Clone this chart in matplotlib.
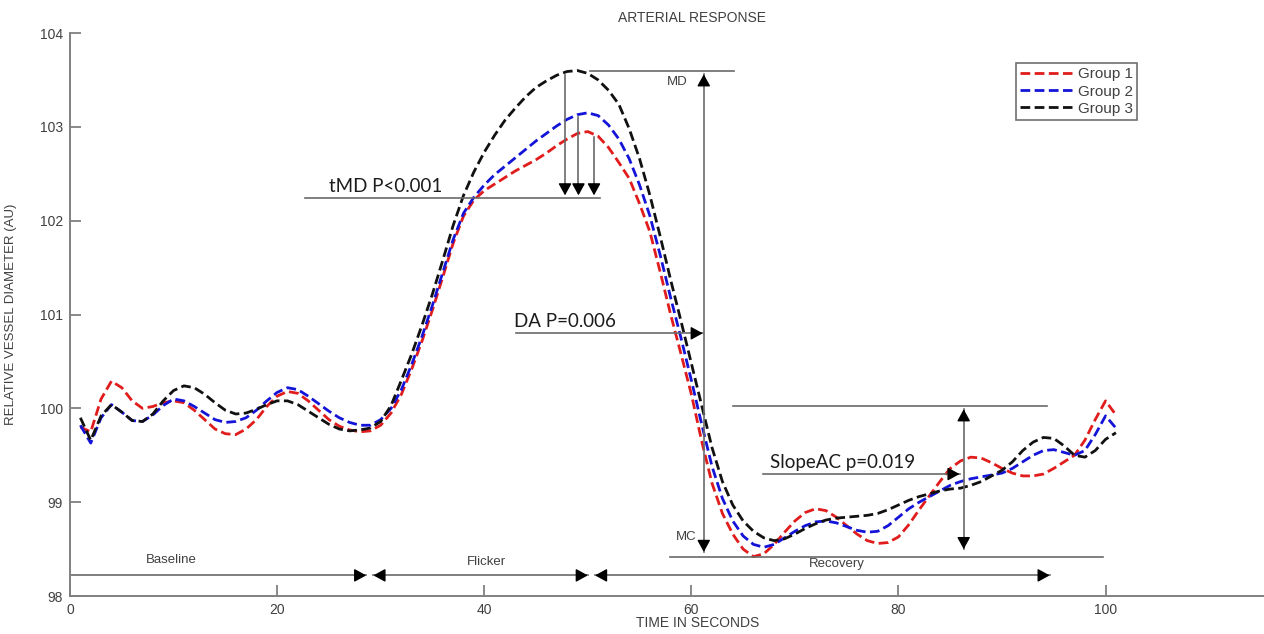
import matplotlib.pyplot as plt
import numpy as np

# time in seconds and relative vessel diameter (AU) for each group
t = list(range(1, 102))

group1 = [99.80, 99.75, 100.10, 100.29, 100.22, 100.08, 100.00, 100.02, 100.06, 100.08,
          100.06, 99.98, 99.88, 99.78, 99.73, 99.72, 99.78, 99.88, 100.02, 100.13,
          100.18, 100.16, 100.08, 99.98, 99.88, 99.81, 99.77, 99.75, 99.76, 99.82,
          99.95, 100.15, 100.42, 100.72, 101.05, 101.40, 101.76, 102.05, 102.22, 102.32,
          102.39, 102.46, 102.53, 102.59, 102.65, 102.72, 102.80, 102.87, 102.93, 102.95,
          102.90, 102.78, 102.62, 102.45, 102.18, 101.88, 101.45, 101.00, 100.58, 100.15,
          99.65, 99.20, 98.88, 98.66, 98.50, 98.42, 98.45, 98.55, 98.68, 98.80,
          98.89, 98.93, 98.91, 98.84, 98.75, 98.66, 98.59, 98.56, 98.57, 98.63,
          98.76, 98.92, 99.07, 99.22, 99.36, 99.44, 99.48, 99.47, 99.42, 99.36,
          99.31, 99.28, 99.28, 99.30, 99.36, 99.43, 99.50, 99.66, 99.88, 100.08,
          99.93]

group2 = [99.82, 99.63, 99.90, 100.04, 99.96, 99.87, 99.86, 99.93, 100.03, 100.10,
          100.08, 100.02, 99.95, 99.88, 99.85, 99.86, 99.90, 99.98, 100.08, 100.17,
          100.22, 100.20, 100.13, 100.05, 99.97, 99.90, 99.85, 99.82, 99.82, 99.88,
          100.00, 100.20, 100.47, 100.77, 101.10, 101.45, 101.80, 102.08, 102.25, 102.38,
          102.49, 102.58, 102.67, 102.76, 102.85, 102.93, 103.01, 103.08, 103.13, 103.15,
          103.12, 103.02, 102.87, 102.66, 102.38, 102.05, 101.63, 101.18, 100.75, 100.30,
          99.83, 99.38, 99.04, 98.80, 98.64, 98.55, 98.52, 98.55, 98.62, 98.69,
          98.75, 98.79, 98.80, 98.78, 98.74, 98.70, 98.68, 98.69, 98.75, 98.84,
          98.93, 99.00, 99.06, 99.12, 99.18, 99.22, 99.25, 99.27, 99.29, 99.31,
          99.36, 99.43, 99.50, 99.55, 99.56, 99.53, 99.50, 99.55, 99.72, 99.92,
          99.79]

group3 = [99.90, 99.66, 99.92, 100.04, 99.96, 99.87, 99.86, 99.94, 100.08, 100.19,
          100.24, 100.22, 100.15, 100.06, 99.98, 99.94, 99.95, 99.99, 100.04, 100.08,
          100.08, 100.04, 99.97, 99.90, 99.83, 99.78, 99.76, 99.77, 99.79, 99.86,
          100.03, 100.30, 100.58, 100.89, 101.22, 101.58, 101.95, 102.27, 102.52, 102.73,
          102.91, 103.07, 103.20, 103.32, 103.42, 103.49, 103.55, 103.59, 103.60, 103.57,
          103.50, 103.39, 103.24, 102.98, 102.66, 102.27, 101.83, 101.37, 100.93, 100.48,
          100.03, 99.58, 99.22, 98.97, 98.80, 98.69, 98.62, 98.59, 98.61, 98.66,
          98.72, 98.77, 98.81, 98.83, 98.84, 98.85, 98.86, 98.88, 98.92, 98.97,
          99.02, 99.06, 99.09, 99.12, 99.14, 99.15, 99.18, 99.22, 99.28, 99.34,
          99.43, 99.55, 99.64, 99.69, 99.68, 99.60, 99.50, 99.48, 99.55, 99.67,
          99.74]

labels = ['Group 1', 'Group 2', 'Group 3']
colors = ['#e01c1c', '#1414d8', '#111111']

plt.rcParams['font.family'] = ['Liberation Sans', 'DejaVu Sans']

fig = plt.figure(figsize=(12.64, 6.34), dpi=100)
ax = fig.add_axes([0.0554, 0.0599, 0.9446, 0.888])

for y, c, lab in zip([group1, group2, group3], colors, labels):
    ax.plot(t, y, color=c, lw=2.0, dashes=(3.5, 1.6), label=lab)

ax.set_xlim(0, 115.3)
ax.set_ylim(98, 104)
ax.set_xticks([0, 20, 40, 60, 80, 100])
ax.set_yticks([98, 99, 100, 101, 102, 103, 104])
ax.tick_params(direction='in', length=8, width=1.3, color='#808080',
               labelsize=10, labelcolor='#404040', pad=5)
for s in ['top', 'right']:
    ax.spines[s].set_visible(False)
for s in ['left', 'bottom']:
    ax.spines[s].set_color('#808080')
    ax.spines[s].set_linewidth(1.4)

ax.set_xlabel('TIME IN SECONDS', fontsize=10, color='#404040')
ax.xaxis.set_label_coords(0.526, -0.035)
ax.set_ylabel('RELATIVE VESSEL DIAMETER (AU)', fontsize=9.5, color='#404040')
ax.yaxis.set_label_coords(-0.044, 0.5)
ax.text(0.521, 1.027, 'ARTERIAL RESPONSE', transform=ax.transAxes,
        ha='center', va='center', fontsize=10, color='#404040')

leg = ax.legend(loc='upper left', bbox_to_anchor=(0.792, 0.947), fontsize=11,
                handlelength=3.4, handletextpad=0.35, labelspacing=0.2,
                borderpad=0.3, fancybox=False, framealpha=1, borderaxespad=0)
leg.get_frame().set_edgecolor('#707070')
leg.get_frame().set_linewidth(1.2)
for txt in leg.get_texts():
    txt.set_color('#404040')

line_c = '#6a6a6a'
head = '-|>,head_length=0.4,head_width=0.22'


def head_at(x0, y0, x1, y1):
    # filled arrowhead pointing from (x0, y0) towards (x1, y1)
    ax.annotate('', xy=(x1, y1), xytext=(x0, y0),
                arrowprops=dict(arrowstyle=head, color='black', lw=1,
                                mutation_scale=18, shrinkA=0, shrinkB=0))


def arrow(x0, y0, x1, y1, both=False):
    ax.plot([x0, x1], [y0, y1], color=line_c, lw=1.2)
    dx = (x1 - x0) * 0.02
    dy = (y1 - y0) * 0.02
    head_at(x1 - dx, y1 - dy, x1, y1)
    if both:
        head_at(x0 + dx, y0 + dy, x0, y0)


big = dict(family=['Lato', 'DejaVu Sans'], fontsize=13.5, color='#1c1c1c')
small = dict(fontsize=9.5, color='#404040')

tt = np.array(t)
peak3 = max(group3)
low1 = min(group1)

# time to maximal dilation
tmd_y = 102.24
ax.plot([22.7, 51.2], [tmd_y, tmd_y], color=line_c, lw=1.2)
for xa, g in zip([47.8, 49.1, 50.6], [group3, group2, group1]):
    ya = np.interp(xa, tt, g) - 0.03
    ax.plot([xa, xa], [ya, tmd_y + 0.1], color=line_c, lw=1.2)
    head_at(xa, tmd_y + 0.15, xa, tmd_y + 0.03)
ax.text(25.0, tmd_y + 0.03, 'tMD P<0.001', ha='left', va='bottom', **big)

# maximal dilation / maximal constriction
ax.plot([50.2, 64.1], [peak3, peak3], color=line_c, lw=1.2)
ax.plot([57.9, 99.8], [low1, low1], color=line_c, lw=1.2)
arrow(61.2, 98.47, 61.2, peak3 - 0.04, both=True)
ax.text(58.6, 103.48, 'MD', ha='center', va='center', **small)
ax.text(59.5, 98.63, 'MC', ha='center', va='center', **small)

# dilation amplitude
arrow(43.1, 100.8, 61.1, 100.8)
ax.text(42.9, 100.83, 'DA P=0.006', ha='left', va='bottom', **big)

# slope of the recovery
ax.plot([64.0, 94.3], [100.03, 100.03], color=line_c, lw=1.2)
arrow(86.3, 98.5, 86.3, 99.99, both=True)
arrow(66.9, 99.3, 85.9, 99.3)
ax.text(67.6, 99.33, 'SlopeAC p=0.019', ha='left', va='bottom', **big)

# phases along the bottom
ph_y = 98.22
arrow(0, ph_y, 28.6, ph_y)
arrow(29.3, ph_y, 50.0, ph_y, both=True)
arrow(50.7, ph_y, 94.6, ph_y, both=True)
ax.text(9.8, 98.38, 'Baseline', ha='center', va='center', **small)
ax.text(40.2, 98.36, 'Flicker', ha='center', va='center', **small)
ax.text(74.0, 98.34, 'Recovery', ha='center', va='center', **small)

fig.savefig('out.png', dpi=100)
